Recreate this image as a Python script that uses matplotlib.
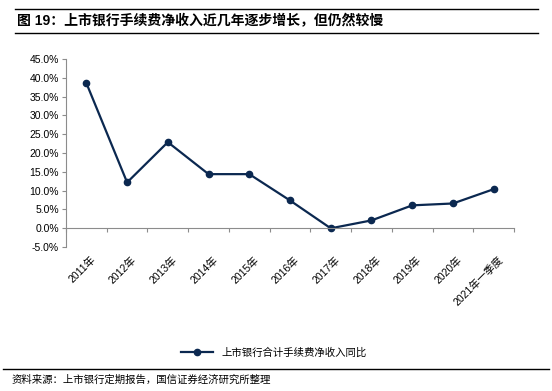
import matplotlib.pyplot as plt
import matplotlib.transforms as mtransforms
from matplotlib.ticker import FuncFormatter

plt.rcParams['font.family'] = ['Liberation Sans', 'Noto Sans CJK SC', 'DejaVu Sans']

# 数据
years = ['2011年', '2012年', '2013年', '2014年', '2015年', '2016年',
         '2017年', '2018年', '2019年', '2020年', '2021年一季度']
growth = [38.6, 12.2, 22.9, 14.4, 14.4, 7.4, 0.0, 2.1, 6.1, 6.6, 10.4]

title = '图 19：上市银行手续费净收入近几年逐步增长，但仍然较慢'
series_name = '上市银行合计手续费净收入同比'
source = '资料来源：上市银行定期报告，国信证券经济研究所整理'

navy = '#0b2850'
gray = '#8c8c8c'

fig = plt.figure(figsize=(5.52, 3.91), dpi=100)
ax = fig.add_axes([0.1196, 0.368, 0.8116, 0.481])

x = list(range(len(years)))
ax.plot(x, growth, color=navy, linewidth=1.6, marker='o', markersize=4.5,
        label=series_name)

# 坐标轴
ax.set_xlim(-0.5, len(years) - 0.5)
ax.set_ylim(-5, 45)
ax.set_yticks(range(-5, 50, 5))
ax.yaxis.set_major_formatter(FuncFormatter(lambda v, p: f'{v:.1f}%'))
ax.tick_params(axis='y', labelsize=7.5, length=3, color=gray, pad=2)

ax.spines['top'].set_visible(False)
ax.spines['right'].set_visible(False)
ax.spines['left'].set_color(gray)
ax.spines['bottom'].set_color(gray)
ax.spines['bottom'].set_position(('data', 0))

ax.set_xticks([i - 0.5 for i in range(len(years) + 1)])
ax.set_xticklabels([])
ax.tick_params(axis='x', length=3, color=gray, direction='out')

trans = mtransforms.blended_transform_factory(ax.transData, ax.transAxes)
for i, lab in enumerate(years):
    ax.text(i + 0.1, -0.04, lab, transform=trans, rotation=45,
            ha='right', va='top', fontsize=7.5, rotation_mode='anchor')

ax.legend(loc='center', bbox_to_anchor=(0.464, -0.56), frameon=False,
          fontsize=7.5, handlelength=3)

# 标题与来源
fig.add_artist(plt.Line2D([0.027, 0.975], [0.977, 0.977], color='black', linewidth=1))
fig.add_artist(plt.Line2D([0.027, 0.975], [0.916, 0.916], color='black', linewidth=1))
fig.text(0.03, 0.946, title, fontsize=10, fontweight='bold', va='center')
fig.add_artist(plt.Line2D([0.006, 0.995], [0.056, 0.056], color='black', linewidth=1))
fig.text(0.02, 0.028, source, fontsize=7.5, va='center')

fig.savefig('out.png', dpi=100)
